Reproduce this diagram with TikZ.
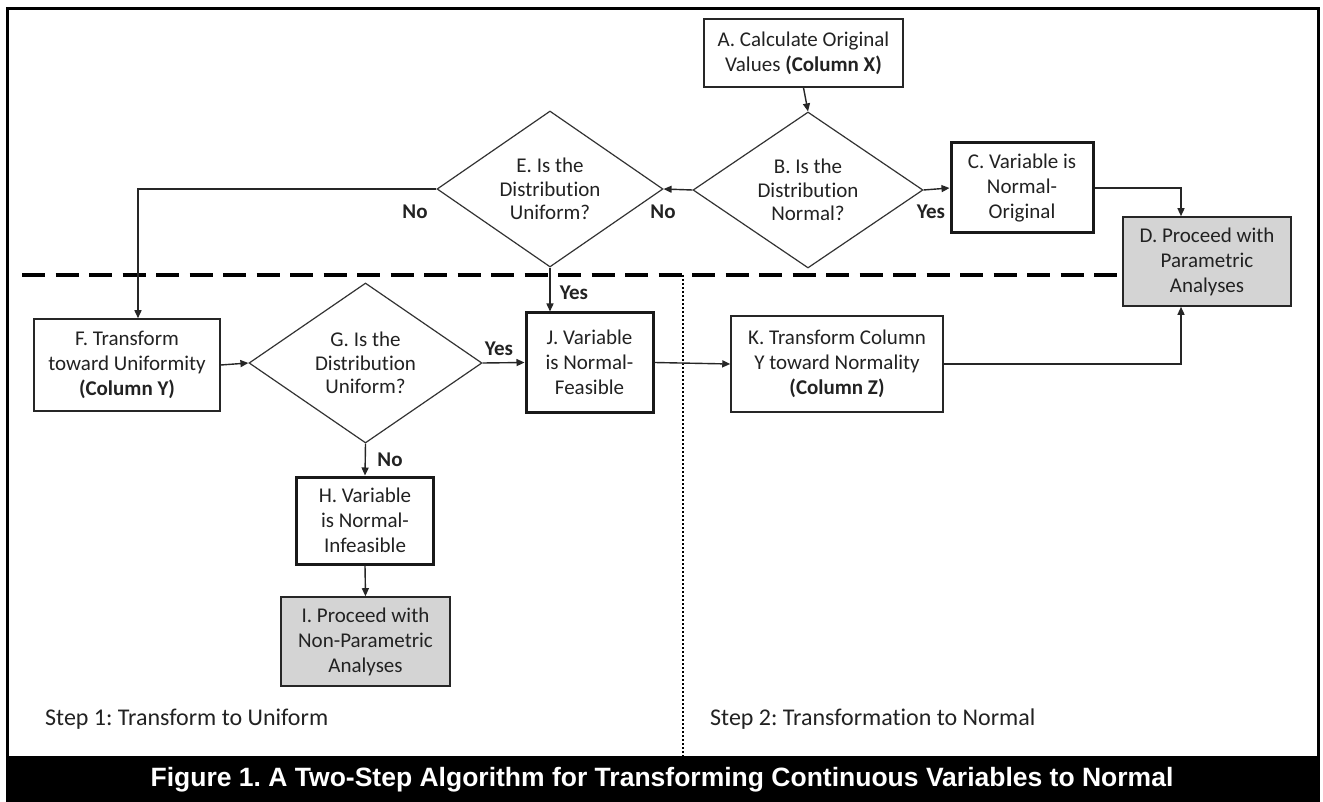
\documentclass[tikz,border=0pt]{standalone}
\usepackage{fontspec}
\setmainfont{Carlito}[Ligatures={NoCommon}]
\newfontfamily\capfont{Liberation Sans}
\usetikzlibrary{arrows.meta,shapes.geometric,calc}
\definecolor{boxgray}{HTML}{D4D4D4}
\definecolor{txt}{HTML}{222222}
\frenchspacing
\begin{document}
\begin{tikzpicture}[x=1pt,y=-1pt,
  every node/.style={font=\fontsize{21}{25}\selectfont, text=txt, align=center},
  arr/.style={draw=black!85, line width=1.4pt, -{Triangle[length=8pt,width=7pt]}},
  plainbox/.style={draw=black!85, line width=1.5pt, fill=white, rectangle, inner sep=0pt},
  thickbox/.style={draw=black!90, line width=3pt, fill=white, rectangle, inner sep=0pt},
  graybox/.style={draw=black!85, line width=1.6pt, fill=boxgray, rectangle, inner sep=0pt},
  decision/.style={draw=black!80, line width=1.2pt, fill=white, diamond, aspect=1.47, inner sep=0pt,
    font=\fontsize{21}{23.5}\selectfont},
  lbl/.style={font=\bfseries\fontsize{21}{25}\selectfont, inner sep=0pt}
]
\useasboundingbox (0,0) rectangle (1323,802);
\fill[white] (0,0) rectangle (1323,802);

% frame and caption band
\draw[line width=3pt] (7,9) rectangle (1318,757);
\fill[black] (5.5,757) rectangle (1320,802);
\node[font=\capfont\bfseries\fontsize{26.5}{30}\selectfont, text=white] (cap) at (662,780)
  {Figure 1. A Two-Step Algorithm for Transforming Continuous Variables to Normal};

% separators
\draw[line width=3.5pt, dash pattern=on 23pt off 10.5pt] (22,275) -- (1123,275);
\draw[line width=2pt, dash pattern=on 2pt off 2pt] (683,275) -- (683,757);

% nodes
\node[plainbox, minimum width=199pt, minimum height=68pt] (A) at (803.5,53)
  {A. Calculate Original\\Values \textbf{(Column X)}};
\node[decision, minimum width=230pt, minimum height=156pt] (B) at (808,190)
  {B. Is the\\Distribution\\Normal?};
\node[thickbox, minimum width=142pt, minimum height=90pt] (C) at (1022,188)
  {C. Variable is\\Normal-\\Original};
\node[graybox, minimum width=168pt, minimum height=89pt] (D) at (1207,261.5)
  {D. Proceed with\\Parametric\\Analyses};
\node[decision, minimum width=226pt, minimum height=156pt] (E) at (550,189)
  {E. Is the\\Distribution\\Uniform?};
\node[plainbox, minimum width=186pt, minimum height=92pt] (F) at (127,365)
  {F. Transform\\toward Uniformity\\\textbf{(Column Y)}};
\node[decision, minimum width=233pt, minimum height=160pt] (G) at (365.5,363)
  {G. Is the\\Distribution\\Uniform?};
\node[thickbox, minimum width=137pt, minimum height=87pt] (H) at (365,520.5)
  {H. Variable\\is Normal-\\Infeasible};
\node[graybox, minimum width=169pt, minimum height=89pt] (I) at (365.5,641.5)
  {I. Proceed with\\Non-Parametric\\Analyses};
\node[thickbox, minimum width=127pt, minimum height=99pt] (J) at (589.5,362.5)
  {J. Variable\\is Normal-\\Feasible};
\node[plainbox, minimum width=212pt, minimum height=96pt] (K) at (837,364)
  {K. Transform Column\\Y toward Normality\\\textbf{(Column Z)}};

% helper coordinates
\coordinate (dx) at (1181,0);
\coordinate (fx) at (138,0);

% connectors
\draw[arr] (A.south) -- (B.north);
\draw[arr] (B.west) -- (E.east);
\draw[arr] (B.east) -- (C.west);
\draw[arr] (C.east) -| (dx |- D.north);
\draw[arr] (K.east) -| (dx |- D.south);
\draw[arr] (E.west) -| (fx |- F.north);
\draw[arr] (E.south) -- (E.south |- J.north);
\draw[arr] (F.east) -- (G.west);
\draw[arr] (G.east) -- (J.west);
\draw[arr] (G.south) -- (H.north);
\draw[arr] (H.south) -- (I.north);
\draw[arr] (J.east) -- (K.west);

% labels
\node[lbl] (noE) at (415,212) {No};
\node[lbl] (noB) at (663,212) {No};
\node[lbl] (yesB) at (931,212) {Yes};
\node[lbl] (yesE) at (574,293) {Yes};
\node[lbl] (yesG) at (499,349) {Yes};
\node[lbl] (noG) at (390,460) {No};

% step labels
\node[font=\fontsize{24}{28}\selectfont, anchor=west, inner sep=0pt] (s1) at (45,719)
  {Step 1: Transform to Uniform};
\node[font=\fontsize{24}{28}\selectfont, anchor=west, inner sep=0pt] (s2) at (710,719)
  {Step 2: Transformation to Normal};
\end{tikzpicture}
\end{document}
